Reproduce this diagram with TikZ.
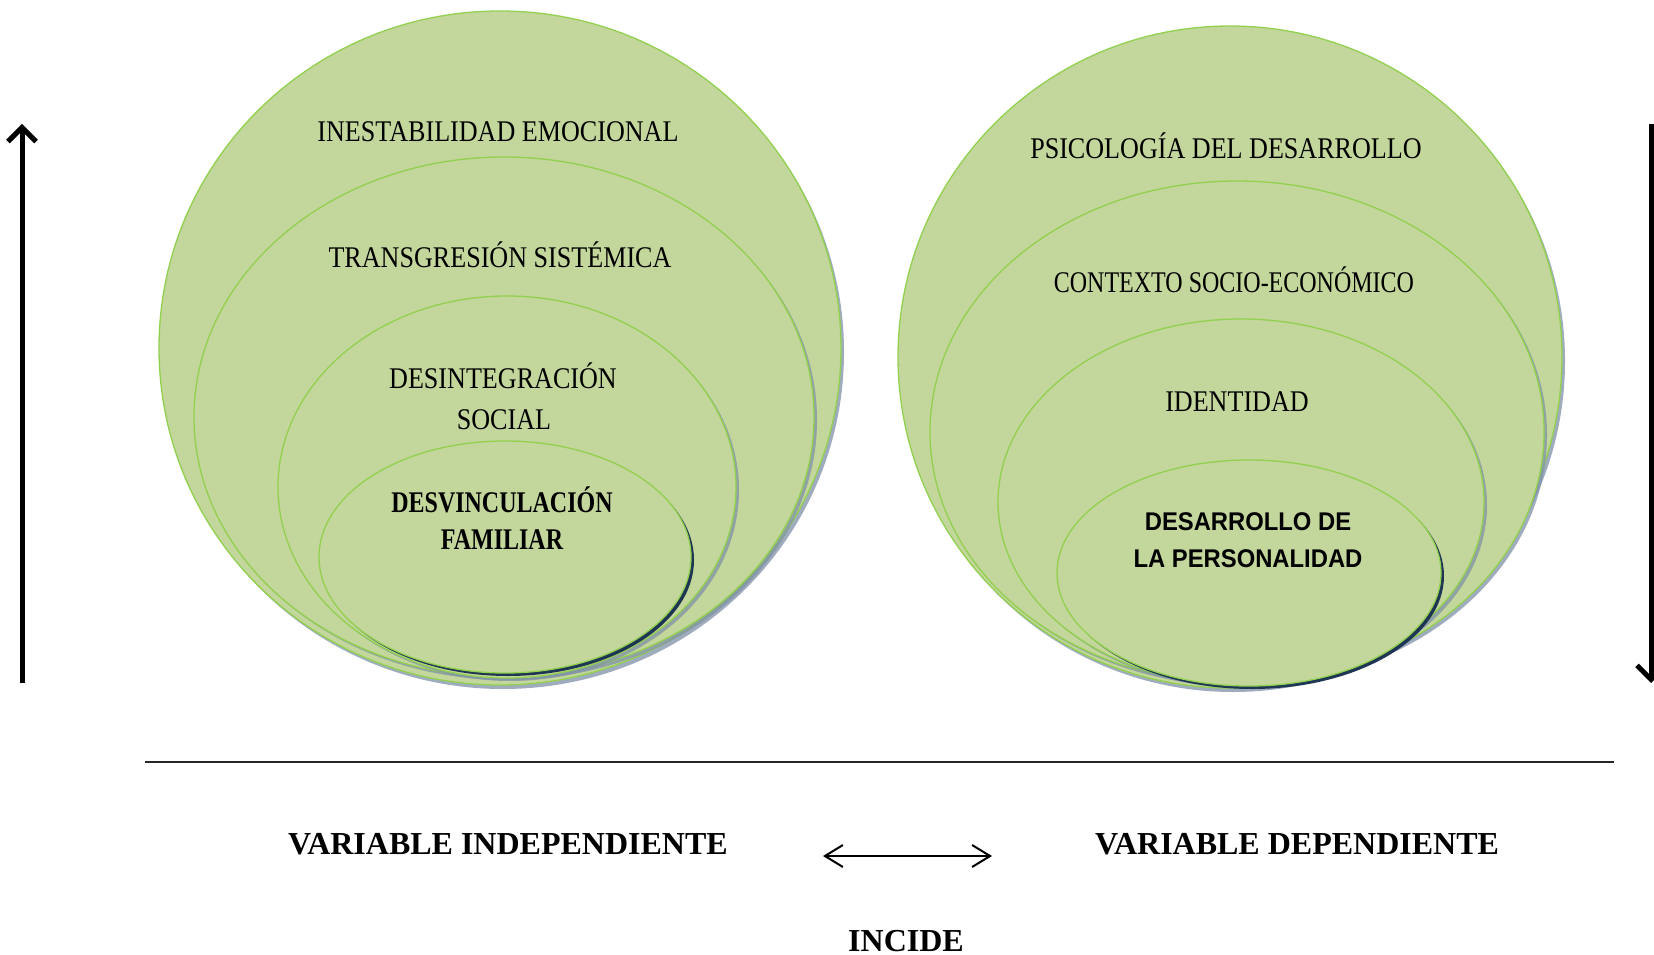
\documentclass[tikz,border=0pt]{standalone}
\usepackage{fontspec}
\setmainfont{Liberation Serif}
\newfontfamily\arialfont{Liberation Sans}
\usepackage{graphicx}
\usetikzlibrary{arrows.meta,shapes.geometric}
\definecolor{ellfill}{HTML}{C3D69B}
\definecolor{ellline}{HTML}{92D050}
\definecolor{shdark}{HTML}{1F3554}
\definecolor{shsoft}{HTML}{7F91A8}
\newcommand{\cond}[1]{\scalebox{0.87}[1]{#1}}
\newcommand{\condc}[1]{\scalebox{0.80}[1]{#1}}
\newcommand{\condb}[1]{\scalebox{0.80}[1]{#1}}
\newcommand{\conds}[1]{\scalebox{0.93}[1]{#1}}
\tikzset{
  ell/.style={ellipse, fill=ellfill, draw=ellline, line width=1.3pt, inner sep=0pt},
  shs/.style={ellipse, fill=shsoft, opacity=0.75, inner sep=0pt},
  shd/.style={ellipse, fill=shdark, inner sep=0pt},
  lbl/.style={anchor=base, inner sep=0pt, font=\fontsize{30}{36}\selectfont},
  lblb/.style={anchor=base, inner sep=0pt, font=\fontsize{30}{36}\selectfont\bfseries},
  lbls/.style={anchor=base, inner sep=0pt, font=\arialfont\fontsize{25.6}{30}\selectfont\bfseries},
  foot/.style={anchor=base, inner sep=0pt, font=\fontsize{32}{38}\selectfont\bfseries},
  bigarrow/.style={line width=5pt, black},
}
\begin{document}
\begin{tikzpicture}[x=1pt,y=-1pt]
\path[use as bounding box, fill=white] (0,0) rectangle (1654,955);
\clip (0,0) rectangle (1654,955);

% ---------- left set of ellipses ----------
\node[shs, minimum width=682pt, minimum height=674pt] (L1s) at (503,352) {};
\node[ell, minimum width=682pt, minimum height=674pt] (L1) at (500,348) {};
\node[shs, minimum width=620pt, minimum height=520pt] (L2s) at (507,420) {};
\node[ell, minimum width=620pt, minimum height=520pt] (L2) at (504,417) {};
\node[shs, minimum width=458pt, minimum height=382pt] (L3s) at (510,490) {};
\node[ell, minimum width=458pt, minimum height=382pt] (L3) at (507,487) {};
\node[shd, minimum width=372pt, minimum height=232pt] (L4s) at (508,560) {};
\node[ell, minimum width=372pt, minimum height=232pt] (L4) at (505,557) {};

% ---------- right set of ellipses ----------
\node[shs, minimum width=664pt, minimum height=662pt] (R1s) at (1233,361) {};
\node[ell, minimum width=664pt, minimum height=662pt] (R1) at (1230,357) {};
\node[shs, minimum width=614pt, minimum height=502pt] (R2s) at (1240,435) {};
\node[ell, minimum width=614pt, minimum height=502pt] (R2) at (1237,432) {};
\node[shs, minimum width=486pt, minimum height=366pt] (R3s) at (1244,505) {};
\node[ell, minimum width=486pt, minimum height=366pt] (R3) at (1241,502) {};
\node[shd, minimum width=384pt, minimum height=226pt] (R4s) at (1252,576) {};
\node[ell, minimum width=384pt, minimum height=226pt] (R4) at (1249,573) {};

% ---------- labels ----------
\node[lbl] (t1) at (498,142) {\cond{INESTABILIDAD EMOCIONAL}};
\node[lbl] (t2) at (500,267) {\cond{TRANSGRESIÓN SISTÉMICA}};
\node[lbl] (t3a) at (503,388) {\cond{DESINTEGRACIÓN}};
\node[lbl] (t3b) at (504,429) {\cond{SOCIAL}};
\node[lblb] (t4a) at (502,512) {\condb{DESVINCULACIÓN}};
\node[lblb] (t4b) at (502,549) {\condb{FAMILIAR}};

\node[lbl] (r1) at (1226,158) {\cond{PSICOLOGÍA DEL DESARROLLO}};
\node[lbl] (r2) at (1234,292) {\condc{CONTEXTO SOCIO-ECONÓMICO}};
\node[lbl] (r3) at (1237,411) {\cond{IDENTIDAD}};
\node[lbls] (r4a) at (1248,530) {\conds{DESARROLLO DE}};
\node[lbls] (r4b) at (1248,567) {\conds{LA PERSONALIDAD}};

% ---------- side arrows ----------
\coordinate (la1) at (22,683);
\coordinate (la2) at (22,124);
\draw[bigarrow, -{Straight Barb[length=14pt,width=28pt,line width=5pt]}] (la1) -- (la2);
\coordinate (ra1) at (1651,124);
\coordinate (ra2) at (1651,683);
\draw[bigarrow, -{Straight Barb[length=14pt,width=28pt,line width=5pt]}] (ra1) -- (ra2);

% ---------- base line ----------
\coordinate (hl1) at (145,762);
\coordinate (hl2) at (1614,762);
\draw[line width=2.5pt, black!85] (hl1) -- (hl2);

% ---------- footer ----------
\node[foot] (vi) at (508,854) {VARIABLE INDEPENDIENTE};
\node[foot] (vd) at (1297,854) {VARIABLE DEPENDIENTE};
\node[foot] (inc) at (906,951) {INCIDE};
\coordinate (da) at (823,856);
\coordinate (db) at (992,856);
\draw[line width=2pt, {Straight Barb[length=18pt,width=22pt,line width=2pt]}-{Straight Barb[length=18pt,width=22pt,line width=2pt]}] (da) -- (db);
\end{tikzpicture}
\end{document}
